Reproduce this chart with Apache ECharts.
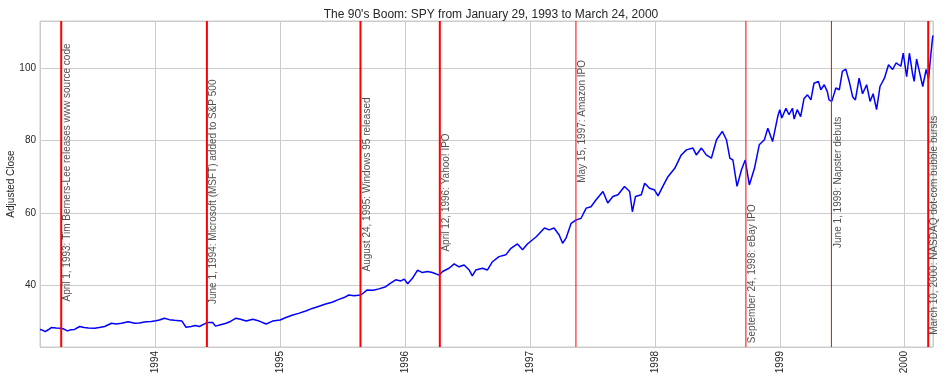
<!DOCTYPE html>
<html>
<head>
<meta charset="utf-8">
<script src="https://cdn.jsdelivr.net/npm/echarts@6/dist/echarts.min.js"></script>
<style>
html,body{margin:0;padding:0;background:#fff;}
#c{width:947px;height:380px;}
</style>
</head>
<body>
<div id="c"></div>
<script>
const dates = [
'1993-01-29','1993-02-05','1993-02-13','1993-02-22','1993-03-03','1993-03-17','1993-04-01','1993-04-09','1993-04-19','1993-04-30',
'1993-05-10','1993-05-25','1993-06-07','1993-06-19','1993-07-08','1993-07-21','1993-08-06','1993-08-26','1993-09-09','1993-09-24',
'1993-10-14','1993-11-02','1993-11-15','1993-12-05','1993-12-20',
'1994-01-03','1994-01-13','1994-01-28','1994-02-11','1994-02-26','1994-03-20','1994-04-01','1994-04-16','1994-04-28','1994-05-10',
'1994-05-22','1994-06-03','1994-06-18','1994-06-26','1994-07-11','1994-07-27','1994-08-09','1994-08-25','1994-09-07','1994-09-24',
'1994-10-13','1994-11-01','1994-11-21','1994-12-10',
'1995-01-01','1995-01-18','1995-02-05','1995-02-26','1995-03-17','1995-04-05','1995-04-25','1995-05-14','1995-06-02','1995-06-22',
'1995-07-07','1995-07-21','1995-08-05','1995-08-25','1995-09-13','1995-09-30','1995-10-17','1995-11-06','1995-11-19','1995-12-05',
'1995-12-20','1995-12-30',
'1996-01-09','1996-01-23','1996-02-07','1996-02-21','1996-03-07','1996-03-21','1996-04-10','1996-04-20','1996-05-09','1996-05-24',
'1996-06-07','1996-06-22','1996-07-07','1996-07-16','1996-07-26','1996-08-15','1996-08-29','1996-09-13','1996-10-02','1996-10-22',
'1996-11-06','1996-11-25','1996-12-10','1996-12-24',
'1997-01-19','1997-02-12','1997-02-26','1997-03-12','1997-03-27','1997-04-06','1997-04-16','1997-05-01','1997-05-15','1997-05-30',
'1997-06-14','1997-06-28','1997-07-13','1997-08-02','1997-08-16','1997-08-31','1997-09-15','1997-10-04','1997-10-19','1997-10-27',
'1997-11-05','1997-11-22','1997-12-02','1997-12-16','1997-12-31',
'1998-01-10','1998-01-24','1998-02-08','1998-02-28','1998-03-19','1998-04-03','1998-04-22','1998-05-02','1998-05-17','1998-05-31',
'1998-06-15','1998-06-30','1998-07-17','1998-07-29','1998-08-08','1998-08-17','1998-08-29','1998-09-11','1998-09-22','1998-10-04',
'1998-10-19','1998-11-02','1998-11-17','1998-11-27','1998-12-11','1998-12-26',
'1999-01-01','1999-01-07','1999-01-19','1999-01-28','1999-02-07','1999-02-12','1999-02-21','1999-03-03','1999-03-13','1999-03-23',
'1999-04-02','1999-04-11','1999-04-24','1999-05-01','1999-05-11','1999-05-20','1999-05-25','1999-06-02','1999-06-14','1999-06-24',
'1999-07-03','1999-07-13','1999-07-23','1999-08-02','1999-08-10','1999-08-21','1999-08-31','1999-09-12','1999-09-22','1999-10-01',
'1999-10-11','1999-10-21','1999-11-03','1999-11-15','1999-11-27','1999-12-07','1999-12-21','1999-12-28',
'2000-01-07','2000-01-15','2000-01-24','2000-01-29','2000-02-05','2000-02-13','2000-02-23','2000-03-04','2000-03-11','2000-03-18',
'2000-03-23','2000-03-24'
];
const prices = [
27.8,27.6,27.2,27.7,28.3,28.2,28.1,27.9,27.4,27.7,
27.8,28.6,28.3,28.2,28.1,28.3,28.6,29.5,29.3,29.5,
29.9,29.5,29.6,29.9,30.0,
30.2,30.4,30.9,30.5,30.3,30.1,28.4,28.6,28.9,28.6,
29.2,29.7,29.7,28.7,29.1,29.5,30.0,30.9,30.6,30.1,
30.6,30.1,29.3,30.1,
30.4,31.1,31.7,32.3,32.9,33.6,34.2,34.8,35.3,36.1,
36.6,37.3,37.1,37.3,38.7,38.6,39.0,39.6,40.5,41.5,
41.2,41.7,
40.4,41.9,44.2,43.5,43.8,43.5,42.8,43.8,44.7,45.9,
45.1,45.6,44.2,42.6,44.2,44.7,44.2,46.5,47.9,48.4,
50.2,51.4,49.8,51.4,
53.4,55.8,55.3,55.8,53.9,51.6,53.0,57.1,58.0,58.5,
61.3,61.7,63.6,65.9,62.7,64.5,65.0,67.3,65.9,60.3,
64.5,65.0,68.2,66.8,66.3,
64.7,67.3,70.0,72.3,76.0,77.4,77.9,76.0,77.9,76.0,
75.1,80.2,82.5,80.2,75.1,74.6,67.3,71.9,74.6,67.7,
72.3,78.8,80.2,83.4,79.7,86.6,
88.5,86.2,88.9,87.1,88.9,85.9,88.5,86.6,91.6,92.6,
91.2,95.8,96.3,94.0,95.4,93.5,91.2,90.8,94.5,94.0,
99.1,99.7,96.3,92.1,91.2,97.2,92.9,95.4,90.8,92.9,
88.5,94.9,97.2,100.9,99.6,101.4,100.5,104.1,
97.6,104.1,98.5,96.3,102.5,99.1,94.9,99.6,97.0,104.1,
108.6,109.0
];
const eventDates = ['1993-04-01','1994-06-01','1995-08-24','1996-04-12','1997-05-15','1998-09-24','1999-06-01','2000-03-10'];
const eventLabels = [
'April 1, 1993: Tim Berners-Lee releases www source code',
'June 1, 1994: Microsoft (MSFT) added to S&P 500',
'August 24, 1995: Windows 95 released',
'April 12, 1996: Yahoo! IPO',
'May 15, 1997: Amazon IPO',
'September 24, 1998: eBay IPO',
'June 1, 1999: Napster debuts',
'March 10, 2000: NASDAQ dot-com bubble bursts'
];
const eventLabelY = [35.5, 34.8, 43.8, 49.3, 68.3, 24.0, 50.3, 26.3];
const eventLineWidths = [2, 2, 2, 2, 1, 1, 1, 2];
const yTicks = [40, 60, 80, 100];
const Y_MIN = 22.94, Y_MAX = 113.0;

const FONT = "'Liberation Sans', Arial, sans-serif";
const TXT = '#262626';
const chart = echarts.init(document.getElementById('c'), null, {renderer: 'canvas'});
const lineData = dates.map((d, i) => [d, prices[i]]);
const labelData = eventDates.map((d, i) => [d, eventLabelY[i]]);

const eventSeries = eventDates.map((d, i) => ({
  type: 'line', data: [[d, Y_MIN], [d, Y_MAX]], showSymbol: false, symbol: 'none', silent: true,
  lineStyle: {color: '#ff0000', width: eventLineWidths[i]}, z: 4
}));

chart.setOption({
  animation: false,
  backgroundColor: '#ffffff',
  title: {
    text: "The 90's Boom: SPY from January 29, 1993 to March 24, 2000",
    left: 486, textAlign: 'center', top: 4,
    textStyle: {fontFamily: FONT, fontSize: 12, fontWeight: 'normal', color: TXT}
  },
  grid: {left: 40, right: 14, top: 21, bottom: 33, containLabel: false, outerBoundsMode: 'none',
         show: true, borderColor: '#cccccc', borderWidth: 1, backgroundColor: '#ffffff'},
  xAxis: {
    type: 'time',
    min: '1993-01-29', max: '2000-03-24',
    minInterval: 365 * 86400000,
    axisLine: {show: false}, axisTick: {show: false},
    splitLine: {show: true, lineStyle: {color: '#cccccc', width: 1}},
    axisLabel: {
      rotate: 90, margin: 4, fontFamily: FONT, fontSize: 10, color: TXT,
      showMinLabel: false, showMaxLabel: false,
      formatter: function (v) { const d = new Date(v); return (d.getMonth() === 0 && d.getDate() === 1) ? String(d.getFullYear()) : ''; }
    }
  },
  yAxis: {
    type: 'value', min: Y_MIN, max: Y_MAX, splitNumber: 5,
    name: 'Adjusted Close', nameLocation: 'middle', nameGap: 24, nameMoveOverlap: false,
    nameTextStyle: {fontFamily: FONT, fontSize: 10, color: TXT},
    axisLine: {show: false}, axisTick: {show: false},
    splitLine: {show: true, lineStyle: {color: '#cccccc', width: 1}},
    axisLabel: {
      margin: 4, fontFamily: FONT, fontSize: 10, color: TXT,
      formatter: function (v) { return yTicks.indexOf(Math.round(v * 100) / 100) >= 0 ? String(v) : ''; }
    }
  },
  series: [
    {
      type: 'line', data: lineData, showSymbol: false, symbol: 'none',
      lineStyle: {color: '#0000ff', width: 1.5}, z: 2
    },
    {
      type: 'scatter', data: labelData, symbolSize: 0, z: 5, silent: true,
      label: {
        show: true, rotate: 90, position: [1.5, 0], align: 'left', verticalAlign: 'top',
        fontFamily: FONT, fontSize: 10, color: TXT,
        formatter: function (p) { return eventLabels[p.dataIndex]; }
      }
    }
  ].concat(eventSeries)
});
</script>
</body>
</html>
